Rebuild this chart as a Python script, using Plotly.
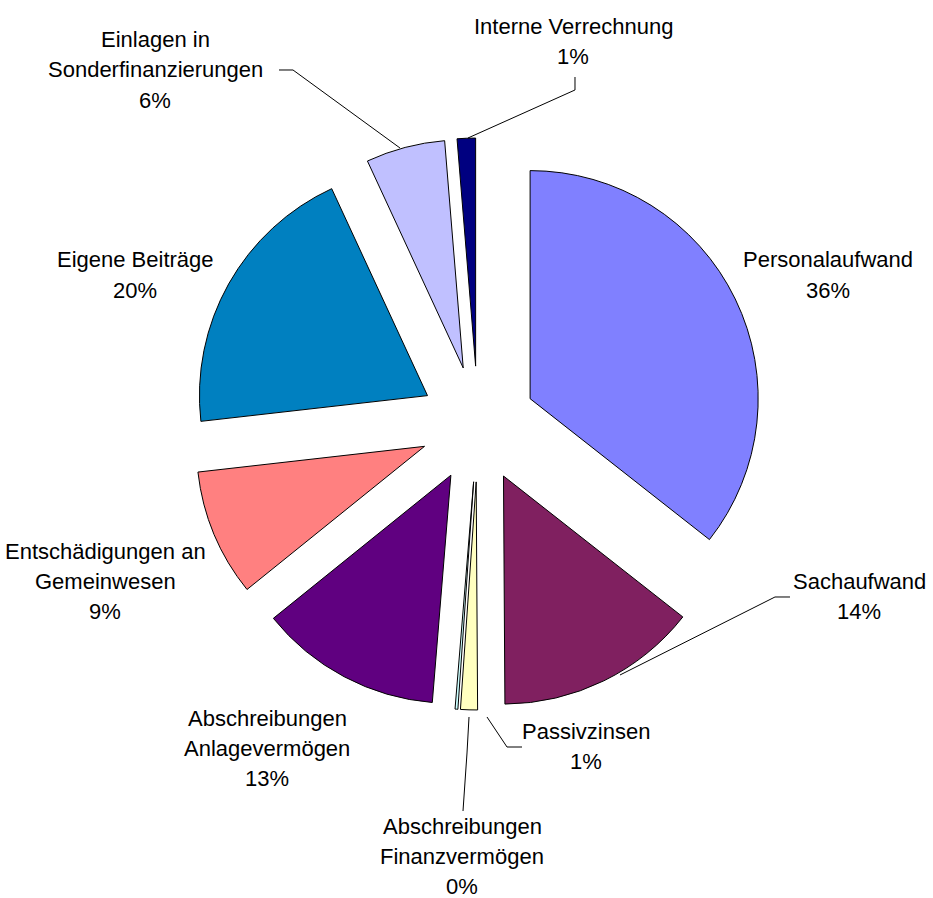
import plotly.graph_objects as go

# ---- data ----
categories = [
    "Personalaufwand",
    "Sachaufwand",
    "Passivzinsen",
    "Abschreibungen Finanzvermögen",
    "Abschreibungen Anlagevermögen",
    "Entschädigungen an Gemeinwesen",
    "Eigene Beiträge",
    "Einlagen in Sonderfinanzierungen",
    "Interne Verrechnung",
]
values = [35.6, 14.3, 1.2, 0.2, 12.9, 9.0, 19.9, 5.6, 1.3]
label_lines = [
    ["Personalaufwand"],
    ["Sachaufwand"],
    ["Passivzinsen"],
    ["Abschreibungen", "Finanzvermögen"],
    ["Abschreibungen", "Anlagevermögen"],
    ["Entschädigungen an", "Gemeinwesen"],
    ["Eigene Beiträge"],
    ["Einlagen in", "Sonderfinanzierungen"],
    ["Interne Verrechnung"],
]
colors = ["#8080FF", "#802060", "#FFFFC0", "#CCFFFF", "#600080",
          "#FF8080", "#0080C0", "#C0C0FF", "#000080"]

W, H = 933, 898


def px(x):
    return x / W


def py(y):
    return 1 - y / H


# first-line centre positions of each label (pixels) and leader-line paths (pixels)
label_pos = [(828, 260), (859, 581), (586, 731), (462, 826), (267, 718),
             (105, 551), (135, 260), (155, 40), (573, 26)]
line_step = 30
leaders = [
    None,
    [(790, 597), (775, 597), (620, 675)],
    [(522, 747), (507, 747), (487, 717)],
    [(463, 811), (467, 753), (469, 717)],
    None,
    None,
    None,
    [(279, 70), (293, 70), (400, 148)],
    [(575, 77), (575, 90), (468, 138)],
]

total = sum(values)

fig = go.Figure()
fig.add_trace(go.Pie(
    labels=categories,
    values=values,
    sort=False,
    direction="clockwise",
    rotation=0,
    pull=[0.254] * len(values),
    marker=dict(colors=colors, line=dict(color="black", width=1)),
    textinfo="none",
    showlegend=False,
    domain=dict(x=[px(478 - 286), px(478 + 286)], y=[py(424 + 286), py(424 - 286)]),
))

annotations = []
font = dict(family="Liberation Sans, Arial, sans-serif", size=22, color="black")
for lines, v, (lx, ly) in zip(label_lines, values, label_pos):
    pct = f"{round(v / total * 100):d}%"
    for i, t in enumerate(lines + [pct]):
        annotations.append(dict(
            x=px(lx), y=py(ly + i * line_step), xref="paper", yref="paper",
            text=t, showarrow=False, xanchor="center", yanchor="middle",
            align="center", font=font,
        ))

shapes = []
for path in leaders:
    if not path:
        continue
    d = "M " + " L ".join(f"{px(x):.5f},{py(y):.5f}" for x, y in path)
    shapes.append(dict(type="path", path=d, xref="paper", yref="paper",
                       line=dict(color="black", width=1)))

fig.update_layout(
    width=W, height=H, autosize=False,
    margin=dict(l=0, r=0, t=0, b=0),
    paper_bgcolor="white", plot_bgcolor="white",
    annotations=annotations, shapes=shapes,
)

fig.write_html("out.html", config={"displayModeBar": False},
               post_script="document.body.style.margin='0';")
